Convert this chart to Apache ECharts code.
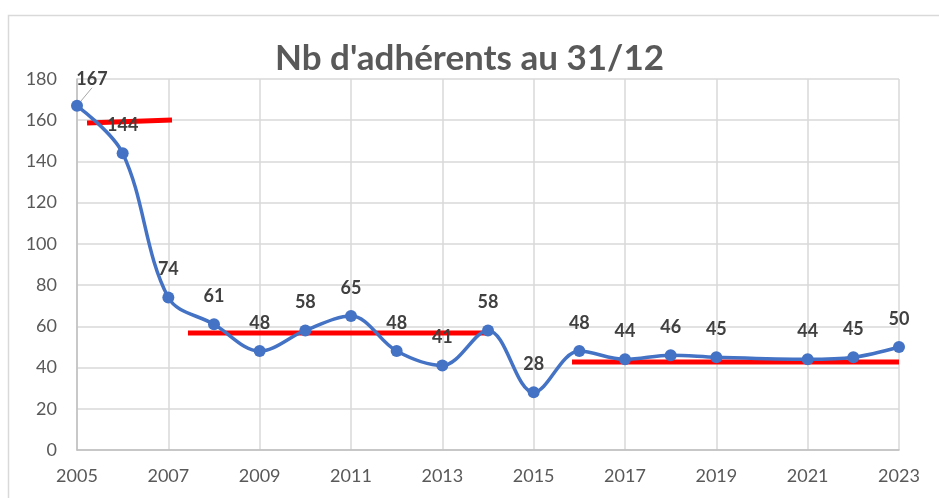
<!DOCTYPE html>
<html>
<head>
<meta charset="utf-8">
<script src="https://cdn.jsdelivr.net/npm/echarts@6/dist/echarts.min.js"></script>
<style>
    html, body { margin: 0; padding: 0; background: #fff; }
    #chart { width: 939px; height: 498px; }
</style>
</head>
<body>
<div id="chart"></div>
<script>
let years = [2005, 2006, 2007, 2008, 2009, 2010, 2011, 2012, 2013, 2014, 2015, 2016, 2017, 2018, 2019, 2021, 2022, 2023];
let members = [167, 144, 74, 61, 48, 58, 65, 48, 41, 58, 28, 48, 44, 46, 45, 44, 45, 50];

// lignes de tendance (rouges)
let trend1 = [[2005.22, 158.7], [2007.08, 160.1]];
let trend2 = [[2007.43, 56.8], [2013.98, 56.8]];
let trend3 = [[2015.84, 42.7], [2023, 42.7]];

let chart = echarts.init(document.getElementById('chart'));

let lineData = years.map(function (y, i) {
    let item = {value: [y, members[i]]};
    if (i === 0) {
        item.labelLine = {show: true, lineStyle: {color: '#a6a6a6', width: 1}};
    }
    return item;
});

let trendSeries = [trend1, trend2, trend3].map(function (d) {
    return {
        type: 'line',
        data: d,
        symbol: 'none',
        silent: true,
        z: 3,
        lineStyle: {color: '#ff0000', width: 5}
    };
});

let option = {
    animation: false,
    title: {
        text: "Nb d'adhérents au 31/12",
        left: 'center',
        top: 36,
        textStyle: {
            fontFamily: 'Lato',
            fontSize: 35,
            fontWeight: 'bold',
            color: '#595959'
        }
    },
    graphic: [
        {
            type: 'rect',
            shape: {x: 8.5, y: 15.5, width: 960, height: 520},
            style: {fill: 'none', stroke: '#d9d9d9', lineWidth: 1.5},
            silent: true
        }
    ],
    grid: {
        left: 77,
        right: 40,
        top: 79,
        bottom: 48
    },
    xAxis: {
        type: 'value',
        min: 2005,
        max: 2023,
        interval: 2,
        axisLine: {show: true, lineStyle: {color: '#bfbfbf', width: 1.5}},
        axisTick: {show: false},
        splitLine: {show: true, lineStyle: {color: '#d9d9d9', width: 1.5}},
        axisLabel: {
            fontFamily: 'Lato',
            fontSize: 18,
            color: '#595959',
            margin: 17,
            formatter: function (v) {
                return String(v);
            }
        }
    },
    yAxis: {
        type: 'value',
        min: 0,
        max: 180,
        interval: 20,
        axisLine: {show: true, lineStyle: {color: '#bfbfbf', width: 1.5}},
        axisTick: {show: false},
        splitLine: {lineStyle: {color: '#d9d9d9', width: 1.5}},
        axisLabel: {
            fontFamily: 'Lato',
            fontSize: 18,
            color: '#595959',
            margin: 20
        }
    },
    series: [
        {
            type: 'line',
            data: lineData,
            smooth: 0.35,
            symbol: 'circle',
            symbolSize: 12,
            z: 4,
            itemStyle: {color: '#4472c4'},
            lineStyle: {color: '#4472c4', width: 3.5},
            label: {
                show: true,
                position: 'top',
                distance: 13,
                fontFamily: 'Lato',
                fontSize: 18,
                fontWeight: 'bold',
                color: '#404040',
                formatter: function (p) {
                    return p.value[1];
                }
            },
            labelLayout: function (params) {
                if (params.dataIndex === 0) {
                    return {dx: 15, dy: 1};
                }
            }
        }
    ].concat(trendSeries)
};

chart.setOption(option);
</script>
</body>
</html>
